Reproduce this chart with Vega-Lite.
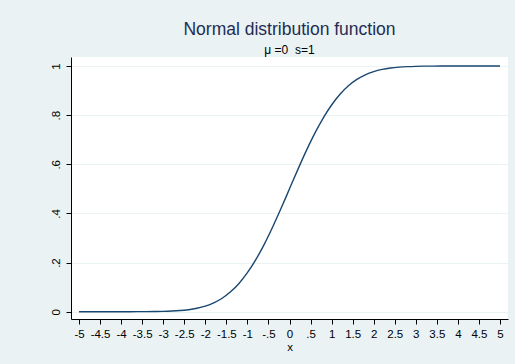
{
  "$schema": "https://vega.github.io/schema/vega-lite/v6.json",
  "width": 437,
  "height": 262,
  "autosize": "none",
  "padding": {"left": 71, "top": 57, "right": 7, "bottom": 45},
  "background": "#eaf2f3",
  "config": {
    "view": {"fill": "white", "stroke": null},
    "font": "Liberation Sans",
    "axis": {
      "domainColor": "#000000",
      "domainWidth": 1,
      "tickColor": "#000000",
      "tickSize": 5,
      "labelColor": "#000000",
      "labelFont": "Liberation Sans",
      "labelFontSize": 11.5,
      "titleFont": "Liberation Sans",
      "titleFontSize": 11.5,
      "titleFontWeight": "normal",
      "titleColor": "#000000"
    }
  },
  "title": {
    "text": "Normal distribution function",
    "subtitle": "μ =0\u00a0\u00a0s=1",
    "anchor": "middle",
    "frame": "group",
    "font": "Liberation Sans",
    "fontSize": 17.5,
    "fontWeight": "normal",
    "color": "#1e2d53",
    "subtitleFont": "Liberation Sans",
    "subtitleFontSize": 12,
    "subtitleColor": "#000000",
    "subtitlePadding": 7,
    "offset": 1
  },
  "data": {
    "values": [
      {"x": -5.0, "y": 0.0000003},
      {"x": -4.8, "y": 0.0000008},
      {"x": -4.6, "y": 0.0000021},
      {"x": -4.4, "y": 0.0000054},
      {"x": -4.2, "y": 0.0000133},
      {"x": -4.0, "y": 0.0000317},
      {"x": -3.8, "y": 0.0000723},
      {"x": -3.6, "y": 0.000159},
      {"x": -3.4, "y": 0.000337},
      {"x": -3.2, "y": 0.000687},
      {"x": -3.0, "y": 0.00135},
      {"x": -2.8, "y": 0.00256},
      {"x": -2.6, "y": 0.00466},
      {"x": -2.4, "y": 0.0082},
      {"x": -2.2, "y": 0.0139},
      {"x": -2.0, "y": 0.02275},
      {"x": -1.8, "y": 0.0359},
      {"x": -1.6, "y": 0.0548},
      {"x": -1.4, "y": 0.0808},
      {"x": -1.2, "y": 0.1151},
      {"x": -1.0, "y": 0.1587},
      {"x": -0.8, "y": 0.2119},
      {"x": -0.6, "y": 0.2743},
      {"x": -0.4, "y": 0.3446},
      {"x": -0.2, "y": 0.4207},
      {"x": 0.0, "y": 0.5},
      {"x": 0.2, "y": 0.5793},
      {"x": 0.4, "y": 0.6554},
      {"x": 0.6, "y": 0.7257},
      {"x": 0.8, "y": 0.7881},
      {"x": 1.0, "y": 0.8413},
      {"x": 1.2, "y": 0.8849},
      {"x": 1.4, "y": 0.9192},
      {"x": 1.6, "y": 0.9452},
      {"x": 1.8, "y": 0.9641},
      {"x": 2.0, "y": 0.97725},
      {"x": 2.2, "y": 0.9861},
      {"x": 2.4, "y": 0.9918},
      {"x": 2.6, "y": 0.99534},
      {"x": 2.8, "y": 0.99744},
      {"x": 3.0, "y": 0.99865},
      {"x": 3.2, "y": 0.999313},
      {"x": 3.4, "y": 0.999663},
      {"x": 3.6, "y": 0.999841},
      {"x": 3.8, "y": 0.9999277},
      {"x": 4.0, "y": 0.9999683},
      {"x": 4.2, "y": 0.9999867},
      {"x": 4.4, "y": 0.9999946},
      {"x": 4.6, "y": 0.9999979},
      {"x": 4.8, "y": 0.9999992},
      {"x": 5.0, "y": 0.9999997}
    ]
  },
  "mark": {"type": "line", "color": "#1a476f", "strokeWidth": 1.4, "interpolate": "monotone"},
  "encoding": {
    "x": {
      "field": "x",
      "type": "quantitative",
      "title": "x",
      "scale": {"domain": [-5.19, 5.19], "nice": false, "zero": false},
      "axis": {
        "values": [-5, -4.5, -4, -3.5, -3, -2.5, -2, -1.5, -1, -0.5, 0, 0.5, 1, 1.5, 2, 2.5, 3, 3.5, 4, 4.5, 5],
        "labelExpr": "replace(datum.value + '', '0.', '.')",
        "grid": false,
        "labelPadding": 4,
        "titlePadding": 2,
        "labelFlush": false,
        "labelOverlap": false
      }
    },
    "y": {
      "field": "y",
      "type": "quantitative",
      "title": null,
      "scale": {"domain": [-0.0297, 1.0366], "nice": false, "zero": false},
      "axis": {
        "values": [0, 0.2, 0.4, 0.6, 0.8, 1],
        "labelExpr": "replace(datum.value + '', '0.', '.')",
        "grid": true,
        "gridColor": "#eaf2f3",
        "gridWidth": 1,
        "labelAngle": -90,
        "labelAlign": "center",
        "labelBaseline": "bottom",
        "labelPadding": 5,
        "labelFlush": false,
        "labelOverlap": false
      }
    }
  }
}
